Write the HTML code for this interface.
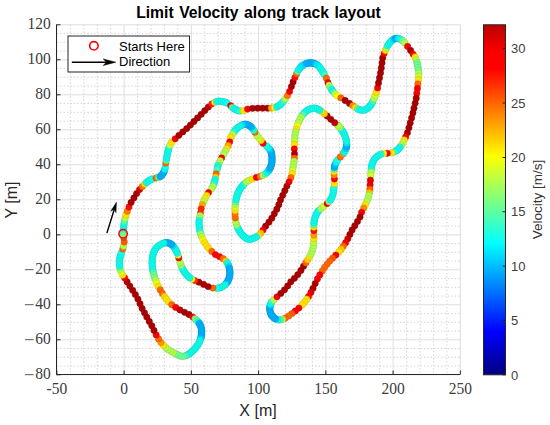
<!DOCTYPE html><html><head><meta charset="utf-8"><style>html,body{margin:0;padding:0;background:#fff}svg{display:block}</style></head><body><svg width="550" height="425" viewBox="0 0 550 425">
<rect width="550" height="425" fill="#fff"/>
<path d="M70.30 24.8V374.8M83.75 24.8V374.8M97.20 24.8V374.8M110.65 24.8V374.8M137.55 24.8V374.8M151.00 24.8V374.8M164.45 24.8V374.8M177.90 24.8V374.8M204.80 24.8V374.8M218.25 24.8V374.8M231.70 24.8V374.8M245.15 24.8V374.8M272.05 24.8V374.8M285.50 24.8V374.8M298.95 24.8V374.8M312.40 24.8V374.8M339.30 24.8V374.8M352.75 24.8V374.8M366.20 24.8V374.8M379.65 24.8V374.8M406.55 24.8V374.8M420.00 24.8V374.8M433.45 24.8V374.8M446.90 24.8V374.8M56.85 366.05H460.35M56.85 357.30H460.35M56.85 348.55H460.35M56.85 331.05H460.35M56.85 322.30H460.35M56.85 313.55H460.35M56.85 296.05H460.35M56.85 287.30H460.35M56.85 278.55H460.35M56.85 261.05H460.35M56.85 252.30H460.35M56.85 243.55H460.35M56.85 226.05H460.35M56.85 217.30H460.35M56.85 208.55H460.35M56.85 191.05H460.35M56.85 182.30H460.35M56.85 173.55H460.35M56.85 156.05H460.35M56.85 147.30H460.35M56.85 138.55H460.35M56.85 121.05H460.35M56.85 112.30H460.35M56.85 103.55H460.35M56.85 86.05H460.35M56.85 77.30H460.35M56.85 68.55H460.35M56.85 51.05H460.35M56.85 42.30H460.35M56.85 33.55H460.35" stroke="#c4c4c4" stroke-width="0.8" stroke-dasharray="1.3 2.1" fill="none"/>
<path d="M56.85 24.8V374.8M124.10 24.8V374.8M191.35 24.8V374.8M258.60 24.8V374.8M325.85 24.8V374.8M393.10 24.8V374.8M460.35 24.8V374.8M56.85 374.80H460.35M56.85 339.80H460.35M56.85 304.80H460.35M56.85 269.80H460.35M56.85 234.80H460.35M56.85 199.80H460.35M56.85 164.80H460.35M56.85 129.80H460.35M56.85 94.80H460.35M56.85 59.80H460.35M56.85 24.80H460.35" stroke="#dedede" stroke-width="1" fill="none"/>
<g><circle cx="123.0" cy="233.9" r="3.35" fill="#70ff8f" stroke="#5cd175" stroke-width="0.5"/><circle cx="123.1" cy="231.6" r="3.35" fill="#4cffb3" stroke="#3ed193" stroke-width="0.5"/><circle cx="123.4" cy="229.6" r="3.35" fill="#11ffee" stroke="#0ed1c3" stroke-width="0.5"/><circle cx="123.6" cy="227.5" r="3.35" fill="#11ffee" stroke="#0ed1c3" stroke-width="0.5"/><circle cx="123.8" cy="225.5" r="3.35" fill="#11ffee" stroke="#0ed1c3" stroke-width="0.5"/><circle cx="124.1" cy="223.5" r="3.35" fill="#11ffee" stroke="#0ed1c3" stroke-width="0.5"/><circle cx="124.5" cy="221.2" r="3.35" fill="#4cffb3" stroke="#3ed193" stroke-width="0.5"/><circle cx="125.1" cy="218.3" r="3.35" fill="#afff50" stroke="#90d142" stroke-width="0.5"/><circle cx="125.9" cy="214.9" r="3.32" fill="#ffe300" stroke="#d1ba00" stroke-width="0.5"/><circle cx="127.3" cy="211.2" r="3.21" fill="#ff7a00" stroke="#d16400" stroke-width="0.5"/><circle cx="129.0" cy="207.0" r="3.15" fill="#ff0a00" stroke="#d10800" stroke-width="0.5"/><circle cx="131.1" cy="202.4" r="3.15" fill="#a90000" stroke="#8b0000" stroke-width="0.5"/><circle cx="133.9" cy="198.0" r="3.15" fill="#a90000" stroke="#8b0000" stroke-width="0.5"/><circle cx="136.6" cy="193.6" r="3.15" fill="#a90000" stroke="#8b0000" stroke-width="0.5"/><circle cx="139.5" cy="189.6" r="3.15" fill="#d70000" stroke="#b00000" stroke-width="0.5"/><circle cx="142.4" cy="186.5" r="3.20" fill="#ff7000" stroke="#d15c00" stroke-width="0.5"/><circle cx="144.8" cy="184.0" r="3.32" fill="#ffe300" stroke="#d1ba00" stroke-width="0.5"/><circle cx="146.5" cy="182.6" r="3.35" fill="#11ffee" stroke="#0ed1c3" stroke-width="0.5"/><circle cx="148.3" cy="181.2" r="3.35" fill="#11ffee" stroke="#0ed1c3" stroke-width="0.5"/><circle cx="150.1" cy="180.1" r="3.35" fill="#11ffee" stroke="#0ed1c3" stroke-width="0.5"/><circle cx="152.0" cy="179.1" r="3.35" fill="#11ffee" stroke="#0ed1c3" stroke-width="0.5"/><circle cx="156.0" cy="178.0" r="3.18" fill="#ff6500" stroke="#d15300" stroke-width="0.5"/><circle cx="158.6" cy="177.3" r="3.35" fill="#6bff94" stroke="#58d179" stroke-width="0.5"/><circle cx="160.2" cy="176.6" r="3.35" fill="#00b4ff" stroke="#0094d1" stroke-width="0.5"/><circle cx="161.5" cy="175.5" r="3.35" fill="#00b4ff" stroke="#0094d1" stroke-width="0.5"/><circle cx="162.6" cy="174.1" r="3.35" fill="#00b4ff" stroke="#0094d1" stroke-width="0.5"/><circle cx="163.6" cy="172.6" r="3.35" fill="#00b4ff" stroke="#0094d1" stroke-width="0.5"/><circle cx="164.3" cy="171.0" r="3.35" fill="#00b4ff" stroke="#0094d1" stroke-width="0.5"/><circle cx="164.9" cy="169.0" r="3.35" fill="#11ffee" stroke="#0ed1c3" stroke-width="0.5"/><circle cx="165.3" cy="167.1" r="3.35" fill="#11ffee" stroke="#0ed1c3" stroke-width="0.5"/><circle cx="165.8" cy="163.1" r="3.18" fill="#ff6500" stroke="#d15300" stroke-width="0.5"/><circle cx="166.3" cy="160.2" r="3.35" fill="#60ff9f" stroke="#4fd182" stroke-width="0.5"/><circle cx="166.6" cy="158.2" r="3.35" fill="#11ffee" stroke="#0ed1c3" stroke-width="0.5"/><circle cx="167.0" cy="156.0" r="3.35" fill="#11ffee" stroke="#0ed1c3" stroke-width="0.5"/><circle cx="167.4" cy="153.9" r="3.35" fill="#11ffee" stroke="#0ed1c3" stroke-width="0.5"/><circle cx="167.8" cy="152.0" r="3.35" fill="#11ffee" stroke="#0ed1c3" stroke-width="0.5"/><circle cx="168.4" cy="150.0" r="3.35" fill="#11ffee" stroke="#0ed1c3" stroke-width="0.5"/><circle cx="169.0" cy="147.8" r="3.35" fill="#11ffee" stroke="#0ed1c3" stroke-width="0.5"/><circle cx="170.0" cy="145.0" r="3.35" fill="#caff35" stroke="#a6d12b" stroke-width="0.5"/><circle cx="171.8" cy="142.2" r="3.32" fill="#ffe300" stroke="#d1ba00" stroke-width="0.5"/><circle cx="175.2" cy="138.8" r="3.15" fill="#fb0000" stroke="#ce0000" stroke-width="0.5"/><circle cx="178.9" cy="135.3" r="3.15" fill="#a90000" stroke="#8b0000" stroke-width="0.5"/><circle cx="182.8" cy="131.9" r="3.15" fill="#a90000" stroke="#8b0000" stroke-width="0.5"/><circle cx="186.7" cy="128.6" r="3.15" fill="#a90000" stroke="#8b0000" stroke-width="0.5"/><circle cx="190.4" cy="125.1" r="3.15" fill="#a90000" stroke="#8b0000" stroke-width="0.5"/><circle cx="194.0" cy="121.5" r="3.15" fill="#a90000" stroke="#8b0000" stroke-width="0.5"/><circle cx="197.6" cy="117.9" r="3.15" fill="#a90000" stroke="#8b0000" stroke-width="0.5"/><circle cx="201.2" cy="114.3" r="3.15" fill="#a90000" stroke="#8b0000" stroke-width="0.5"/><circle cx="204.8" cy="110.6" r="3.15" fill="#a90000" stroke="#8b0000" stroke-width="0.5"/><circle cx="208.3" cy="107.1" r="3.15" fill="#b80000" stroke="#970000" stroke-width="0.5"/><circle cx="211.8" cy="104.0" r="3.15" fill="#ff1d00" stroke="#d11800" stroke-width="0.5"/><circle cx="214.8" cy="102.3" r="3.33" fill="#ffee00" stroke="#d1c300" stroke-width="0.5"/><circle cx="216.7" cy="101.5" r="3.35" fill="#11ffee" stroke="#0ed1c3" stroke-width="0.5"/><circle cx="218.9" cy="101.1" r="3.35" fill="#11ffee" stroke="#0ed1c3" stroke-width="0.5"/><circle cx="221.2" cy="101.3" r="3.35" fill="#11ffee" stroke="#0ed1c3" stroke-width="0.5"/><circle cx="223.1" cy="101.7" r="3.35" fill="#11ffee" stroke="#0ed1c3" stroke-width="0.5"/><circle cx="225.2" cy="102.2" r="3.35" fill="#11ffee" stroke="#0ed1c3" stroke-width="0.5"/><circle cx="227.0" cy="103.0" r="3.35" fill="#11ffee" stroke="#0ed1c3" stroke-width="0.5"/><circle cx="230.7" cy="105.7" r="3.15" fill="#fb0000" stroke="#ce0000" stroke-width="0.5"/><circle cx="232.4" cy="107.5" r="3.35" fill="#66ff99" stroke="#54d17d" stroke-width="0.5"/><circle cx="234.0" cy="108.7" r="3.35" fill="#11ffee" stroke="#0ed1c3" stroke-width="0.5"/><circle cx="235.8" cy="109.7" r="3.35" fill="#11ffee" stroke="#0ed1c3" stroke-width="0.5"/><circle cx="237.7" cy="110.5" r="3.35" fill="#11ffee" stroke="#0ed1c3" stroke-width="0.5"/><circle cx="239.9" cy="111.0" r="3.35" fill="#27ffd8" stroke="#20d1b1" stroke-width="0.5"/><circle cx="243.4" cy="110.8" r="3.32" fill="#ffe300" stroke="#d1ba00" stroke-width="0.5"/><circle cx="247.6" cy="109.1" r="3.15" fill="#fb0000" stroke="#ce0000" stroke-width="0.5"/><circle cx="252.6" cy="108.3" r="3.15" fill="#a90000" stroke="#8b0000" stroke-width="0.5"/><circle cx="257.7" cy="108.2" r="3.15" fill="#a90000" stroke="#8b0000" stroke-width="0.5"/><circle cx="262.7" cy="108.2" r="3.15" fill="#a90000" stroke="#8b0000" stroke-width="0.5"/><circle cx="267.7" cy="108.2" r="3.15" fill="#a90000" stroke="#8b0000" stroke-width="0.5"/><circle cx="271.4" cy="108.1" r="3.25" fill="#ffa400" stroke="#d18600" stroke-width="0.5"/><circle cx="274.7" cy="107.6" r="3.34" fill="#fff900" stroke="#d1cc00" stroke-width="0.5"/><circle cx="276.9" cy="106.9" r="3.35" fill="#11ffee" stroke="#0ed1c3" stroke-width="0.5"/><circle cx="278.8" cy="105.7" r="3.35" fill="#11ffee" stroke="#0ed1c3" stroke-width="0.5"/><circle cx="280.4" cy="104.5" r="3.35" fill="#11ffee" stroke="#0ed1c3" stroke-width="0.5"/><circle cx="281.9" cy="103.1" r="3.35" fill="#11ffee" stroke="#0ed1c3" stroke-width="0.5"/><circle cx="283.5" cy="101.4" r="3.35" fill="#2affd5" stroke="#22d1af" stroke-width="0.5"/><circle cx="285.3" cy="98.9" r="3.35" fill="#afff50" stroke="#90d142" stroke-width="0.5"/><circle cx="287.5" cy="95.6" r="3.20" fill="#ff7300" stroke="#d15e00" stroke-width="0.5"/><circle cx="289.6" cy="91.4" r="3.15" fill="#f90000" stroke="#cc0000" stroke-width="0.5"/><circle cx="291.4" cy="86.6" r="3.15" fill="#a90000" stroke="#8b0000" stroke-width="0.5"/><circle cx="293.1" cy="81.9" r="3.15" fill="#a90000" stroke="#8b0000" stroke-width="0.5"/><circle cx="294.9" cy="77.6" r="3.15" fill="#ff1000" stroke="#d10d00" stroke-width="0.5"/><circle cx="296.6" cy="73.8" r="3.18" fill="#ff6500" stroke="#d15300" stroke-width="0.5"/><circle cx="297.7" cy="71.3" r="3.35" fill="#5affa5" stroke="#4ad187" stroke-width="0.5"/><circle cx="298.8" cy="69.4" r="3.35" fill="#11ffee" stroke="#0ed1c3" stroke-width="0.5"/><circle cx="300.2" cy="67.7" r="3.35" fill="#0cfff3" stroke="#0ad1c7" stroke-width="0.5"/><circle cx="301.7" cy="66.2" r="3.35" fill="#00f2ff" stroke="#00c6d1" stroke-width="0.5"/><circle cx="303.2" cy="65.0" r="3.35" fill="#00f0ff" stroke="#00c5d1" stroke-width="0.5"/><circle cx="305.0" cy="64.0" r="3.35" fill="#00e9ff" stroke="#00bfd1" stroke-width="0.5"/><circle cx="306.6" cy="63.4" r="3.35" fill="#00bbff" stroke="#0099d1" stroke-width="0.5"/><circle cx="308.3" cy="63.0" r="3.35" fill="#00b4ff" stroke="#0094d1" stroke-width="0.5"/><circle cx="310.0" cy="62.9" r="3.35" fill="#00b4ff" stroke="#0094d1" stroke-width="0.5"/><circle cx="311.6" cy="62.9" r="3.35" fill="#00b4ff" stroke="#0094d1" stroke-width="0.5"/><circle cx="313.3" cy="63.2" r="3.35" fill="#00b4ff" stroke="#0094d1" stroke-width="0.5"/><circle cx="315.0" cy="63.7" r="3.35" fill="#00b4ff" stroke="#0094d1" stroke-width="0.5"/><circle cx="316.8" cy="64.6" r="3.35" fill="#00eeff" stroke="#00c3d1" stroke-width="0.5"/><circle cx="318.4" cy="65.8" r="3.35" fill="#00f0ff" stroke="#00c5d1" stroke-width="0.5"/><circle cx="319.7" cy="67.3" r="3.35" fill="#01fffe" stroke="#01d1d0" stroke-width="0.5"/><circle cx="320.9" cy="68.9" r="3.35" fill="#11ffee" stroke="#0ed1c3" stroke-width="0.5"/><circle cx="322.1" cy="70.8" r="3.35" fill="#11ffee" stroke="#0ed1c3" stroke-width="0.5"/><circle cx="323.2" cy="72.7" r="3.35" fill="#11ffee" stroke="#0ed1c3" stroke-width="0.5"/><circle cx="324.4" cy="74.6" r="3.35" fill="#31ffce" stroke="#28d1a9" stroke-width="0.5"/><circle cx="326.4" cy="78.2" r="3.18" fill="#ff6500" stroke="#d15300" stroke-width="0.5"/><circle cx="328.0" cy="82.7" r="3.15" fill="#fb0000" stroke="#ce0000" stroke-width="0.5"/><circle cx="329.2" cy="85.4" r="3.35" fill="#afff50" stroke="#90d142" stroke-width="0.5"/><circle cx="330.5" cy="87.8" r="3.35" fill="#7cff83" stroke="#66d16b" stroke-width="0.5"/><circle cx="331.7" cy="89.7" r="3.35" fill="#11ffee" stroke="#0ed1c3" stroke-width="0.5"/><circle cx="333.0" cy="91.5" r="3.35" fill="#11ffee" stroke="#0ed1c3" stroke-width="0.5"/><circle cx="334.9" cy="93.8" r="3.35" fill="#afff50" stroke="#90d142" stroke-width="0.5"/><circle cx="337.4" cy="95.8" r="3.35" fill="#faff05" stroke="#cdd104" stroke-width="0.5"/><circle cx="340.9" cy="97.9" r="3.18" fill="#ff6500" stroke="#d15300" stroke-width="0.5"/><circle cx="345.2" cy="100.5" r="3.15" fill="#a90000" stroke="#8b0000" stroke-width="0.5"/><circle cx="349.5" cy="103.4" r="3.15" fill="#a90000" stroke="#8b0000" stroke-width="0.5"/><circle cx="352.8" cy="105.6" r="3.22" fill="#ff8300" stroke="#d16b00" stroke-width="0.5"/><circle cx="355.7" cy="107.6" r="3.32" fill="#ffe300" stroke="#d1ba00" stroke-width="0.5"/><circle cx="357.7" cy="108.9" r="3.35" fill="#53ffac" stroke="#44d18d" stroke-width="0.5"/><circle cx="359.6" cy="109.8" r="3.35" fill="#11ffee" stroke="#0ed1c3" stroke-width="0.5"/><circle cx="361.8" cy="110.2" r="3.35" fill="#11ffee" stroke="#0ed1c3" stroke-width="0.5"/><circle cx="364.0" cy="110.1" r="3.35" fill="#11ffee" stroke="#0ed1c3" stroke-width="0.5"/><circle cx="366.0" cy="109.3" r="3.35" fill="#11ffee" stroke="#0ed1c3" stroke-width="0.5"/><circle cx="367.8" cy="108.2" r="3.35" fill="#11ffee" stroke="#0ed1c3" stroke-width="0.5"/><circle cx="369.4" cy="106.8" r="3.35" fill="#11ffee" stroke="#0ed1c3" stroke-width="0.5"/><circle cx="370.8" cy="105.0" r="3.35" fill="#11ffee" stroke="#0ed1c3" stroke-width="0.5"/><circle cx="371.9" cy="103.3" r="3.35" fill="#11ffee" stroke="#0ed1c3" stroke-width="0.5"/><circle cx="372.9" cy="101.3" r="3.35" fill="#32ffcd" stroke="#29d1a8" stroke-width="0.5"/><circle cx="374.1" cy="98.5" r="3.35" fill="#afff50" stroke="#90d142" stroke-width="0.5"/><circle cx="375.2" cy="95.6" r="3.35" fill="#caff35" stroke="#a6d12b" stroke-width="0.5"/><circle cx="376.4" cy="92.4" r="3.32" fill="#ffe300" stroke="#d1ba00" stroke-width="0.5"/><circle cx="377.6" cy="87.9" r="3.15" fill="#fb0000" stroke="#ce0000" stroke-width="0.5"/><circle cx="378.5" cy="83.0" r="3.15" fill="#a90000" stroke="#8b0000" stroke-width="0.5"/><circle cx="379.5" cy="78.0" r="3.15" fill="#a90000" stroke="#8b0000" stroke-width="0.5"/><circle cx="380.5" cy="73.0" r="3.15" fill="#a90000" stroke="#8b0000" stroke-width="0.5"/><circle cx="381.3" cy="68.0" r="3.15" fill="#a90000" stroke="#8b0000" stroke-width="0.5"/><circle cx="382.0" cy="62.9" r="3.15" fill="#a90000" stroke="#8b0000" stroke-width="0.5"/><circle cx="382.7" cy="57.9" r="3.15" fill="#a90000" stroke="#8b0000" stroke-width="0.5"/><circle cx="384.1" cy="53.6" r="3.15" fill="#fb0000" stroke="#ce0000" stroke-width="0.5"/><circle cx="385.5" cy="50.4" r="3.32" fill="#ffe300" stroke="#d1ba00" stroke-width="0.5"/><circle cx="386.6" cy="47.8" r="3.35" fill="#b7ff48" stroke="#96d13b" stroke-width="0.5"/><circle cx="387.6" cy="45.7" r="3.35" fill="#11ffee" stroke="#0ed1c3" stroke-width="0.5"/><circle cx="388.9" cy="43.9" r="3.35" fill="#11ffee" stroke="#0ed1c3" stroke-width="0.5"/><circle cx="390.1" cy="42.3" r="3.35" fill="#11ffee" stroke="#0ed1c3" stroke-width="0.5"/><circle cx="391.7" cy="40.7" r="3.35" fill="#11ffee" stroke="#0ed1c3" stroke-width="0.5"/><circle cx="393.4" cy="39.5" r="3.35" fill="#00edff" stroke="#00c2d1" stroke-width="0.5"/><circle cx="395.0" cy="38.7" r="3.35" fill="#00b4ff" stroke="#0094d1" stroke-width="0.5"/><circle cx="396.6" cy="38.3" r="3.35" fill="#00b4ff" stroke="#0094d1" stroke-width="0.5"/><circle cx="398.6" cy="38.5" r="3.35" fill="#00fbff" stroke="#00ced1" stroke-width="0.5"/><circle cx="400.5" cy="39.3" r="3.35" fill="#11ffee" stroke="#0ed1c3" stroke-width="0.5"/><circle cx="402.5" cy="40.7" r="3.35" fill="#60ff9f" stroke="#4fd182" stroke-width="0.5"/><circle cx="404.7" cy="42.8" r="3.35" fill="#afff50" stroke="#90d142" stroke-width="0.5"/><circle cx="407.6" cy="46.4" r="3.15" fill="#fb0000" stroke="#ce0000" stroke-width="0.5"/><circle cx="410.6" cy="50.5" r="3.15" fill="#a90000" stroke="#8b0000" stroke-width="0.5"/><circle cx="413.2" cy="54.3" r="3.15" fill="#fb0000" stroke="#ce0000" stroke-width="0.5"/><circle cx="415.1" cy="57.1" r="3.32" fill="#ffe300" stroke="#d1ba00" stroke-width="0.5"/><circle cx="416.3" cy="60.1" r="3.35" fill="#c5ff3a" stroke="#a2d130" stroke-width="0.5"/><circle cx="417.0" cy="62.6" r="3.35" fill="#70ff8f" stroke="#5cd175" stroke-width="0.5"/><circle cx="417.6" cy="65.1" r="3.35" fill="#70ff8f" stroke="#5cd175" stroke-width="0.5"/><circle cx="418.1" cy="67.7" r="3.35" fill="#70ff8f" stroke="#5cd175" stroke-width="0.5"/><circle cx="418.5" cy="70.2" r="3.35" fill="#70ff8f" stroke="#5cd175" stroke-width="0.5"/><circle cx="418.8" cy="73.2" r="3.35" fill="#afff50" stroke="#90d142" stroke-width="0.5"/><circle cx="418.7" cy="76.2" r="3.35" fill="#b8ff47" stroke="#97d13a" stroke-width="0.5"/><circle cx="418.4" cy="79.7" r="3.32" fill="#ffe300" stroke="#d1ba00" stroke-width="0.5"/><circle cx="417.9" cy="83.9" r="3.18" fill="#ff6500" stroke="#d15300" stroke-width="0.5"/><circle cx="417.4" cy="88.5" r="3.15" fill="#fb0000" stroke="#ce0000" stroke-width="0.5"/><circle cx="416.8" cy="93.3" r="3.15" fill="#fb0000" stroke="#ce0000" stroke-width="0.5"/><circle cx="416.2" cy="98.2" r="3.15" fill="#a90000" stroke="#8b0000" stroke-width="0.5"/><circle cx="415.2" cy="103.1" r="3.15" fill="#a90000" stroke="#8b0000" stroke-width="0.5"/><circle cx="414.0" cy="108.2" r="3.15" fill="#a90000" stroke="#8b0000" stroke-width="0.5"/><circle cx="412.9" cy="113.0" r="3.15" fill="#a90000" stroke="#8b0000" stroke-width="0.5"/><circle cx="411.6" cy="118.0" r="3.15" fill="#a90000" stroke="#8b0000" stroke-width="0.5"/><circle cx="410.2" cy="123.0" r="3.15" fill="#a90000" stroke="#8b0000" stroke-width="0.5"/><circle cx="408.9" cy="127.8" r="3.15" fill="#a90000" stroke="#8b0000" stroke-width="0.5"/><circle cx="407.4" cy="132.7" r="3.15" fill="#b20000" stroke="#920000" stroke-width="0.5"/><circle cx="405.7" cy="137.0" r="3.15" fill="#fb0000" stroke="#ce0000" stroke-width="0.5"/><circle cx="404.2" cy="140.1" r="3.32" fill="#ffe300" stroke="#d1ba00" stroke-width="0.5"/><circle cx="402.8" cy="143.0" r="3.35" fill="#caff35" stroke="#a6d12b" stroke-width="0.5"/><circle cx="401.2" cy="145.5" r="3.35" fill="#a2ff5d" stroke="#85d14c" stroke-width="0.5"/><circle cx="399.9" cy="147.3" r="3.35" fill="#11ffee" stroke="#0ed1c3" stroke-width="0.5"/><circle cx="398.4" cy="149.0" r="3.35" fill="#11ffee" stroke="#0ed1c3" stroke-width="0.5"/><circle cx="396.9" cy="150.4" r="3.35" fill="#11ffee" stroke="#0ed1c3" stroke-width="0.5"/><circle cx="395.0" cy="151.6" r="3.35" fill="#11ffee" stroke="#0ed1c3" stroke-width="0.5"/><circle cx="391.8" cy="152.8" r="3.32" fill="#ffe300" stroke="#d1ba00" stroke-width="0.5"/><circle cx="387.3" cy="153.3" r="3.15" fill="#fb0000" stroke="#ce0000" stroke-width="0.5"/><circle cx="383.5" cy="153.5" r="3.34" fill="#fffa00" stroke="#d1cd00" stroke-width="0.5"/><circle cx="381.1" cy="154.1" r="3.35" fill="#3fffc0" stroke="#34d19d" stroke-width="0.5"/><circle cx="379.3" cy="155.0" r="3.35" fill="#11ffee" stroke="#0ed1c3" stroke-width="0.5"/><circle cx="377.4" cy="156.3" r="3.35" fill="#11ffee" stroke="#0ed1c3" stroke-width="0.5"/><circle cx="375.8" cy="157.7" r="3.35" fill="#11ffee" stroke="#0ed1c3" stroke-width="0.5"/><circle cx="374.4" cy="159.4" r="3.35" fill="#11ffee" stroke="#0ed1c3" stroke-width="0.5"/><circle cx="373.3" cy="161.2" r="3.35" fill="#11ffee" stroke="#0ed1c3" stroke-width="0.5"/><circle cx="372.4" cy="163.2" r="3.35" fill="#11ffee" stroke="#0ed1c3" stroke-width="0.5"/><circle cx="371.8" cy="165.2" r="3.35" fill="#11ffee" stroke="#0ed1c3" stroke-width="0.5"/><circle cx="371.5" cy="167.4" r="3.35" fill="#11ffee" stroke="#0ed1c3" stroke-width="0.5"/><circle cx="371.2" cy="169.5" r="3.35" fill="#11ffee" stroke="#0ed1c3" stroke-width="0.5"/><circle cx="371.0" cy="172.3" r="3.35" fill="#afff50" stroke="#90d142" stroke-width="0.5"/><circle cx="370.8" cy="175.4" r="3.35" fill="#cbff34" stroke="#a6d12b" stroke-width="0.5"/><circle cx="370.4" cy="180.2" r="3.15" fill="#dd0000" stroke="#b50000" stroke-width="0.5"/><circle cx="370.1" cy="184.9" r="3.15" fill="#ef0000" stroke="#c40000" stroke-width="0.5"/><circle cx="369.9" cy="189.1" r="3.17" fill="#ff5c00" stroke="#d14b00" stroke-width="0.5"/><circle cx="369.4" cy="192.7" r="3.28" fill="#ffbc00" stroke="#d19a00" stroke-width="0.5"/><circle cx="368.7" cy="195.7" r="3.35" fill="#afff50" stroke="#90d142" stroke-width="0.5"/><circle cx="367.9" cy="198.7" r="3.35" fill="#afff50" stroke="#90d142" stroke-width="0.5"/><circle cx="366.8" cy="201.5" r="3.35" fill="#afff50" stroke="#90d142" stroke-width="0.5"/><circle cx="365.4" cy="204.6" r="3.32" fill="#ffe300" stroke="#d1ba00" stroke-width="0.5"/><circle cx="363.7" cy="208.1" r="3.22" fill="#ff8b00" stroke="#d17200" stroke-width="0.5"/><circle cx="361.6" cy="212.3" r="3.15" fill="#fb0000" stroke="#ce0000" stroke-width="0.5"/><circle cx="360.0" cy="217.0" r="3.15" fill="#a90000" stroke="#8b0000" stroke-width="0.5"/><circle cx="357.5" cy="221.4" r="3.15" fill="#a90000" stroke="#8b0000" stroke-width="0.5"/><circle cx="354.8" cy="225.8" r="3.15" fill="#a90000" stroke="#8b0000" stroke-width="0.5"/><circle cx="352.1" cy="230.0" r="3.15" fill="#a90000" stroke="#8b0000" stroke-width="0.5"/><circle cx="349.9" cy="234.5" r="3.15" fill="#a90000" stroke="#8b0000" stroke-width="0.5"/><circle cx="347.8" cy="238.8" r="3.15" fill="#d20000" stroke="#ac0000" stroke-width="0.5"/><circle cx="345.6" cy="242.7" r="3.15" fill="#fb0000" stroke="#ce0000" stroke-width="0.5"/><circle cx="343.3" cy="246.3" r="3.18" fill="#ff6500" stroke="#d15300" stroke-width="0.5"/><circle cx="341.2" cy="249.2" r="3.29" fill="#ffc600" stroke="#d1a200" stroke-width="0.5"/><circle cx="339.0" cy="251.9" r="3.32" fill="#ffe300" stroke="#d1ba00" stroke-width="0.5"/><circle cx="335.8" cy="255.1" r="3.15" fill="#fb0000" stroke="#ce0000" stroke-width="0.5"/><circle cx="332.6" cy="258.2" r="3.17" fill="#ff5500" stroke="#d14600" stroke-width="0.5"/><circle cx="329.8" cy="261.0" r="3.18" fill="#ff6500" stroke="#d15300" stroke-width="0.5"/><circle cx="327.1" cy="264.2" r="3.18" fill="#ff6500" stroke="#d15300" stroke-width="0.5"/><circle cx="324.6" cy="267.4" r="3.18" fill="#ff6500" stroke="#d15300" stroke-width="0.5"/><circle cx="322.3" cy="270.9" r="3.18" fill="#ff6500" stroke="#d15300" stroke-width="0.5"/><circle cx="319.8" cy="274.9" r="3.15" fill="#fb0000" stroke="#ce0000" stroke-width="0.5"/><circle cx="317.4" cy="279.0" r="3.15" fill="#fb0000" stroke="#ce0000" stroke-width="0.5"/><circle cx="315.2" cy="283.6" r="3.15" fill="#a90000" stroke="#8b0000" stroke-width="0.5"/><circle cx="313.0" cy="288.3" r="3.15" fill="#a90000" stroke="#8b0000" stroke-width="0.5"/><circle cx="310.9" cy="292.5" r="3.15" fill="#e30000" stroke="#ba0000" stroke-width="0.5"/><circle cx="308.6" cy="296.4" r="3.15" fill="#ff0800" stroke="#d10700" stroke-width="0.5"/><circle cx="306.6" cy="299.4" r="3.32" fill="#ffe300" stroke="#d1ba00" stroke-width="0.5"/><circle cx="304.5" cy="302.2" r="3.32" fill="#ffe300" stroke="#d1ba00" stroke-width="0.5"/><circle cx="302.2" cy="304.8" r="3.32" fill="#ffe300" stroke="#d1ba00" stroke-width="0.5"/><circle cx="298.9" cy="308.1" r="3.15" fill="#fb0000" stroke="#ce0000" stroke-width="0.5"/><circle cx="295.3" cy="311.0" r="3.15" fill="#fb0000" stroke="#ce0000" stroke-width="0.5"/><circle cx="291.9" cy="313.6" r="3.17" fill="#ff5400" stroke="#d14500" stroke-width="0.5"/><circle cx="288.7" cy="316.0" r="3.18" fill="#ff6500" stroke="#d15300" stroke-width="0.5"/><circle cx="285.0" cy="318.3" r="3.18" fill="#ff6500" stroke="#d15300" stroke-width="0.5"/><circle cx="282.2" cy="319.4" r="3.35" fill="#afff50" stroke="#90d142" stroke-width="0.5"/><circle cx="279.8" cy="319.9" r="3.35" fill="#44ffbb" stroke="#38d199" stroke-width="0.5"/><circle cx="277.6" cy="319.7" r="3.35" fill="#11ffee" stroke="#0ed1c3" stroke-width="0.5"/><circle cx="275.8" cy="319.0" r="3.35" fill="#00c8ff" stroke="#00a4d1" stroke-width="0.5"/><circle cx="274.4" cy="318.2" r="3.35" fill="#00b4ff" stroke="#0094d1" stroke-width="0.5"/><circle cx="273.2" cy="317.1" r="3.35" fill="#00b4ff" stroke="#0094d1" stroke-width="0.5"/><circle cx="271.9" cy="315.7" r="3.35" fill="#00b4ff" stroke="#0094d1" stroke-width="0.5"/><circle cx="271.1" cy="314.4" r="3.35" fill="#00b4ff" stroke="#0094d1" stroke-width="0.5"/><circle cx="270.4" cy="312.8" r="3.35" fill="#00b4ff" stroke="#0094d1" stroke-width="0.5"/><circle cx="270.0" cy="311.1" r="3.35" fill="#00b4ff" stroke="#0094d1" stroke-width="0.5"/><circle cx="269.8" cy="309.5" r="3.35" fill="#00b4ff" stroke="#0094d1" stroke-width="0.5"/><circle cx="269.8" cy="307.7" r="3.35" fill="#00b4ff" stroke="#0094d1" stroke-width="0.5"/><circle cx="270.0" cy="306.2" r="3.35" fill="#00b4ff" stroke="#0094d1" stroke-width="0.5"/><circle cx="270.6" cy="304.1" r="3.35" fill="#05fffa" stroke="#04d1cd" stroke-width="0.5"/><circle cx="271.6" cy="302.1" r="3.35" fill="#11ffee" stroke="#0ed1c3" stroke-width="0.5"/><circle cx="273.7" cy="299.9" r="3.35" fill="#afff50" stroke="#90d142" stroke-width="0.5"/><circle cx="277.0" cy="296.8" r="3.15" fill="#fb0000" stroke="#ce0000" stroke-width="0.5"/><circle cx="280.8" cy="293.4" r="3.15" fill="#a90000" stroke="#8b0000" stroke-width="0.5"/><circle cx="284.5" cy="289.8" r="3.15" fill="#a90000" stroke="#8b0000" stroke-width="0.5"/><circle cx="287.7" cy="285.9" r="3.15" fill="#a90000" stroke="#8b0000" stroke-width="0.5"/><circle cx="290.8" cy="281.8" r="3.15" fill="#a90000" stroke="#8b0000" stroke-width="0.5"/><circle cx="294.4" cy="278.3" r="3.15" fill="#a90000" stroke="#8b0000" stroke-width="0.5"/><circle cx="297.8" cy="274.6" r="3.15" fill="#a90000" stroke="#8b0000" stroke-width="0.5"/><circle cx="300.9" cy="270.5" r="3.15" fill="#a90000" stroke="#8b0000" stroke-width="0.5"/><circle cx="303.6" cy="266.2" r="3.15" fill="#a90000" stroke="#8b0000" stroke-width="0.5"/><circle cx="305.9" cy="262.7" r="3.18" fill="#ff6500" stroke="#d15300" stroke-width="0.5"/><circle cx="307.8" cy="259.7" r="3.29" fill="#ffca00" stroke="#d1a600" stroke-width="0.5"/><circle cx="309.6" cy="256.7" r="3.32" fill="#ffe300" stroke="#d1ba00" stroke-width="0.5"/><circle cx="311.0" cy="254.1" r="3.35" fill="#afff50" stroke="#90d142" stroke-width="0.5"/><circle cx="312.1" cy="251.3" r="3.35" fill="#afff50" stroke="#90d142" stroke-width="0.5"/><circle cx="312.9" cy="248.4" r="3.35" fill="#afff50" stroke="#90d142" stroke-width="0.5"/><circle cx="313.5" cy="245.4" r="3.35" fill="#afff50" stroke="#90d142" stroke-width="0.5"/><circle cx="313.8" cy="242.4" r="3.35" fill="#afff50" stroke="#90d142" stroke-width="0.5"/><circle cx="313.9" cy="238.9" r="3.32" fill="#ffe300" stroke="#d1ba00" stroke-width="0.5"/><circle cx="313.9" cy="235.1" r="3.24" fill="#ff9900" stroke="#d17d00" stroke-width="0.5"/><circle cx="313.9" cy="230.6" r="3.15" fill="#ff0f00" stroke="#d10c00" stroke-width="0.5"/><circle cx="313.9" cy="227.1" r="3.32" fill="#ffe300" stroke="#d1ba00" stroke-width="0.5"/><circle cx="313.9" cy="224.6" r="3.35" fill="#53ffac" stroke="#44d18d" stroke-width="0.5"/><circle cx="314.0" cy="222.5" r="3.35" fill="#11ffee" stroke="#0ed1c3" stroke-width="0.5"/><circle cx="314.3" cy="220.3" r="3.35" fill="#11ffee" stroke="#0ed1c3" stroke-width="0.5"/><circle cx="314.8" cy="218.3" r="3.35" fill="#11ffee" stroke="#0ed1c3" stroke-width="0.5"/><circle cx="315.5" cy="216.2" r="3.35" fill="#11ffee" stroke="#0ed1c3" stroke-width="0.5"/><circle cx="316.4" cy="214.1" r="3.35" fill="#11ffee" stroke="#0ed1c3" stroke-width="0.5"/><circle cx="317.5" cy="212.2" r="3.35" fill="#11ffee" stroke="#0ed1c3" stroke-width="0.5"/><circle cx="318.9" cy="210.5" r="3.35" fill="#11ffee" stroke="#0ed1c3" stroke-width="0.5"/><circle cx="321.2" cy="208.4" r="3.35" fill="#afff50" stroke="#90d142" stroke-width="0.5"/><circle cx="323.5" cy="206.5" r="3.35" fill="#beff41" stroke="#9cd135" stroke-width="0.5"/><circle cx="327.2" cy="203.6" r="3.15" fill="#fb0000" stroke="#ce0000" stroke-width="0.5"/><circle cx="329.1" cy="201.6" r="3.35" fill="#8dff72" stroke="#74d15d" stroke-width="0.5"/><circle cx="330.5" cy="199.8" r="3.35" fill="#11ffee" stroke="#0ed1c3" stroke-width="0.5"/><circle cx="331.6" cy="197.9" r="3.35" fill="#11ffee" stroke="#0ed1c3" stroke-width="0.5"/><circle cx="332.5" cy="195.8" r="3.35" fill="#11ffee" stroke="#0ed1c3" stroke-width="0.5"/><circle cx="333.1" cy="193.7" r="3.35" fill="#11ffee" stroke="#0ed1c3" stroke-width="0.5"/><circle cx="333.4" cy="191.6" r="3.35" fill="#11ffee" stroke="#0ed1c3" stroke-width="0.5"/><circle cx="333.7" cy="189.6" r="3.35" fill="#11ffee" stroke="#0ed1c3" stroke-width="0.5"/><circle cx="334.0" cy="187.3" r="3.35" fill="#11ffee" stroke="#0ed1c3" stroke-width="0.5"/><circle cx="334.3" cy="183.8" r="3.32" fill="#ffe300" stroke="#d1ba00" stroke-width="0.5"/><circle cx="334.4" cy="179.0" r="3.15" fill="#fb0000" stroke="#ce0000" stroke-width="0.5"/><circle cx="334.1" cy="175.0" r="3.22" fill="#ff8800" stroke="#d17000" stroke-width="0.5"/><circle cx="334.0" cy="171.6" r="3.32" fill="#ffe300" stroke="#d1ba00" stroke-width="0.5"/><circle cx="334.2" cy="168.9" r="3.35" fill="#56ffa9" stroke="#47d18b" stroke-width="0.5"/><circle cx="334.4" cy="167.2" r="3.35" fill="#00b4ff" stroke="#0094d1" stroke-width="0.5"/><circle cx="334.8" cy="165.5" r="3.35" fill="#00b4ff" stroke="#0094d1" stroke-width="0.5"/><circle cx="335.4" cy="163.9" r="3.35" fill="#00c9ff" stroke="#00a5d1" stroke-width="0.5"/><circle cx="336.4" cy="161.9" r="3.35" fill="#11ffee" stroke="#0ed1c3" stroke-width="0.5"/><circle cx="337.6" cy="160.0" r="3.35" fill="#11ffee" stroke="#0ed1c3" stroke-width="0.5"/><circle cx="340.3" cy="157.0" r="3.18" fill="#ff6500" stroke="#d15300" stroke-width="0.5"/><circle cx="342.9" cy="153.9" r="3.23" fill="#ff9400" stroke="#d17900" stroke-width="0.5"/><circle cx="344.2" cy="152.2" r="3.35" fill="#11ffee" stroke="#0ed1c3" stroke-width="0.5"/><circle cx="345.3" cy="150.3" r="3.35" fill="#11ffee" stroke="#0ed1c3" stroke-width="0.5"/><circle cx="346.1" cy="148.4" r="3.35" fill="#00dcff" stroke="#00b4d1" stroke-width="0.5"/><circle cx="346.5" cy="146.7" r="3.35" fill="#00b4ff" stroke="#0094d1" stroke-width="0.5"/><circle cx="346.7" cy="145.0" r="3.35" fill="#00b4ff" stroke="#0094d1" stroke-width="0.5"/><circle cx="346.6" cy="143.0" r="3.35" fill="#00ecff" stroke="#00c2d1" stroke-width="0.5"/><circle cx="346.4" cy="141.0" r="3.35" fill="#11ffee" stroke="#0ed1c3" stroke-width="0.5"/><circle cx="345.9" cy="138.8" r="3.35" fill="#11ffee" stroke="#0ed1c3" stroke-width="0.5"/><circle cx="345.2" cy="136.6" r="3.35" fill="#11ffee" stroke="#0ed1c3" stroke-width="0.5"/><circle cx="344.4" cy="134.6" r="3.35" fill="#11ffee" stroke="#0ed1c3" stroke-width="0.5"/><circle cx="343.5" cy="132.7" r="3.35" fill="#11ffee" stroke="#0ed1c3" stroke-width="0.5"/><circle cx="342.3" cy="130.8" r="3.35" fill="#11ffee" stroke="#0ed1c3" stroke-width="0.5"/><circle cx="340.9" cy="129.1" r="3.35" fill="#11ffee" stroke="#0ed1c3" stroke-width="0.5"/><circle cx="337.9" cy="125.5" r="3.15" fill="#fb0000" stroke="#ce0000" stroke-width="0.5"/><circle cx="339.6" cy="126.8" r="3.35" fill="#dfff20" stroke="#b7d11a" stroke-width="0.5"/><circle cx="338.4" cy="125.9" r="3.35" fill="#afff50" stroke="#90d142" stroke-width="0.5"/><circle cx="334.7" cy="122.7" r="3.15" fill="#c40000" stroke="#a10000" stroke-width="0.5"/><circle cx="330.8" cy="119.3" r="3.15" fill="#a90000" stroke="#8b0000" stroke-width="0.5"/><circle cx="327.1" cy="116.0" r="3.15" fill="#a90000" stroke="#8b0000" stroke-width="0.5"/><circle cx="324.4" cy="113.7" r="3.29" fill="#ffc900" stroke="#d1a500" stroke-width="0.5"/><circle cx="321.5" cy="111.5" r="3.32" fill="#ffe300" stroke="#d1ba00" stroke-width="0.5"/><circle cx="319.6" cy="110.2" r="3.35" fill="#11ffee" stroke="#0ed1c3" stroke-width="0.5"/><circle cx="317.7" cy="109.1" r="3.35" fill="#11ffee" stroke="#0ed1c3" stroke-width="0.5"/><circle cx="315.8" cy="108.3" r="3.35" fill="#11ffee" stroke="#0ed1c3" stroke-width="0.5"/><circle cx="313.7" cy="108.0" r="3.35" fill="#11ffee" stroke="#0ed1c3" stroke-width="0.5"/><circle cx="311.5" cy="108.5" r="3.35" fill="#11ffee" stroke="#0ed1c3" stroke-width="0.5"/><circle cx="309.5" cy="109.2" r="3.35" fill="#11ffee" stroke="#0ed1c3" stroke-width="0.5"/><circle cx="307.5" cy="110.2" r="3.35" fill="#11ffee" stroke="#0ed1c3" stroke-width="0.5"/><circle cx="305.7" cy="111.6" r="3.35" fill="#11ffee" stroke="#0ed1c3" stroke-width="0.5"/><circle cx="304.2" cy="113.0" r="3.35" fill="#11ffee" stroke="#0ed1c3" stroke-width="0.5"/><circle cx="302.7" cy="114.9" r="3.35" fill="#4fffb0" stroke="#41d190" stroke-width="0.5"/><circle cx="301.0" cy="117.4" r="3.35" fill="#afff50" stroke="#90d142" stroke-width="0.5"/><circle cx="299.6" cy="120.0" r="3.35" fill="#afff50" stroke="#90d142" stroke-width="0.5"/><circle cx="298.4" cy="122.7" r="3.35" fill="#afff50" stroke="#90d142" stroke-width="0.5"/><circle cx="297.2" cy="125.8" r="3.35" fill="#f1ff0e" stroke="#c6d10b" stroke-width="0.5"/><circle cx="296.2" cy="129.2" r="3.32" fill="#ffe300" stroke="#d1ba00" stroke-width="0.5"/><circle cx="295.5" cy="132.1" r="3.35" fill="#afff50" stroke="#90d142" stroke-width="0.5"/><circle cx="295.0" cy="135.0" r="3.35" fill="#afff50" stroke="#90d142" stroke-width="0.5"/><circle cx="294.8" cy="138.0" r="3.35" fill="#afff50" stroke="#90d142" stroke-width="0.5"/><circle cx="294.6" cy="141.0" r="3.35" fill="#b8ff47" stroke="#97d13a" stroke-width="0.5"/><circle cx="294.4" cy="144.4" r="3.32" fill="#ffe300" stroke="#d1ba00" stroke-width="0.5"/><circle cx="294.3" cy="149.0" r="3.15" fill="#fb0000" stroke="#ce0000" stroke-width="0.5"/><circle cx="294.5" cy="154.0" r="3.15" fill="#a90000" stroke="#8b0000" stroke-width="0.5"/><circle cx="294.4" cy="158.2" r="3.18" fill="#ff6500" stroke="#d15300" stroke-width="0.5"/><circle cx="294.0" cy="161.3" r="3.35" fill="#afff50" stroke="#90d142" stroke-width="0.5"/><circle cx="293.5" cy="164.2" r="3.35" fill="#afff50" stroke="#90d142" stroke-width="0.5"/><circle cx="293.0" cy="167.2" r="3.35" fill="#afff50" stroke="#90d142" stroke-width="0.5"/><circle cx="292.6" cy="170.2" r="3.35" fill="#d2ff2d" stroke="#acd125" stroke-width="0.5"/><circle cx="292.0" cy="173.7" r="3.32" fill="#ffe300" stroke="#d1ba00" stroke-width="0.5"/><circle cx="290.9" cy="177.6" r="3.18" fill="#ff6500" stroke="#d15300" stroke-width="0.5"/><circle cx="289.1" cy="181.8" r="3.15" fill="#fb0000" stroke="#ce0000" stroke-width="0.5"/><circle cx="286.9" cy="186.1" r="3.15" fill="#b80000" stroke="#970000" stroke-width="0.5"/><circle cx="284.8" cy="190.7" r="3.15" fill="#a90000" stroke="#8b0000" stroke-width="0.5"/><circle cx="282.7" cy="195.3" r="3.15" fill="#a90000" stroke="#8b0000" stroke-width="0.5"/><circle cx="280.5" cy="200.0" r="3.15" fill="#a90000" stroke="#8b0000" stroke-width="0.5"/><circle cx="278.8" cy="204.7" r="3.15" fill="#a90000" stroke="#8b0000" stroke-width="0.5"/><circle cx="276.8" cy="209.2" r="3.15" fill="#a90000" stroke="#8b0000" stroke-width="0.5"/><circle cx="274.3" cy="213.7" r="3.15" fill="#a90000" stroke="#8b0000" stroke-width="0.5"/><circle cx="271.8" cy="218.2" r="3.15" fill="#a90000" stroke="#8b0000" stroke-width="0.5"/><circle cx="268.9" cy="222.2" r="3.15" fill="#a90000" stroke="#8b0000" stroke-width="0.5"/><circle cx="265.6" cy="226.2" r="3.15" fill="#a90000" stroke="#8b0000" stroke-width="0.5"/><circle cx="263.0" cy="230.1" r="3.15" fill="#fb0000" stroke="#ce0000" stroke-width="0.5"/><circle cx="260.7" cy="233.2" r="3.28" fill="#ffbe00" stroke="#d19c00" stroke-width="0.5"/><circle cx="258.3" cy="235.6" r="3.32" fill="#ffe300" stroke="#d1ba00" stroke-width="0.5"/><circle cx="256.4" cy="236.9" r="3.35" fill="#11ffee" stroke="#0ed1c3" stroke-width="0.5"/><circle cx="254.6" cy="237.8" r="3.35" fill="#11ffee" stroke="#0ed1c3" stroke-width="0.5"/><circle cx="252.7" cy="238.6" r="3.35" fill="#11ffee" stroke="#0ed1c3" stroke-width="0.5"/><circle cx="250.6" cy="239.2" r="3.35" fill="#11ffee" stroke="#0ed1c3" stroke-width="0.5"/><circle cx="248.6" cy="239.3" r="3.35" fill="#11ffee" stroke="#0ed1c3" stroke-width="0.5"/><circle cx="246.6" cy="238.5" r="3.35" fill="#11ffee" stroke="#0ed1c3" stroke-width="0.5"/><circle cx="244.9" cy="237.3" r="3.35" fill="#11ffee" stroke="#0ed1c3" stroke-width="0.5"/><circle cx="243.3" cy="235.9" r="3.35" fill="#11ffee" stroke="#0ed1c3" stroke-width="0.5"/><circle cx="241.9" cy="234.5" r="3.35" fill="#11ffee" stroke="#0ed1c3" stroke-width="0.5"/><circle cx="240.6" cy="232.9" r="3.35" fill="#11ffee" stroke="#0ed1c3" stroke-width="0.5"/><circle cx="239.5" cy="231.2" r="3.35" fill="#11ffee" stroke="#0ed1c3" stroke-width="0.5"/><circle cx="238.5" cy="229.4" r="3.35" fill="#11ffee" stroke="#0ed1c3" stroke-width="0.5"/><circle cx="237.5" cy="227.4" r="3.35" fill="#11ffee" stroke="#0ed1c3" stroke-width="0.5"/><circle cx="236.6" cy="224.8" r="3.35" fill="#9dff62" stroke="#81d150" stroke-width="0.5"/><circle cx="235.8" cy="222.0" r="3.35" fill="#afff50" stroke="#90d142" stroke-width="0.5"/><circle cx="235.3" cy="217.9" r="3.19" fill="#ff6900" stroke="#d15600" stroke-width="0.5"/><circle cx="235.1" cy="214.0" r="3.20" fill="#ff7400" stroke="#d15f00" stroke-width="0.5"/><circle cx="235.1" cy="210.5" r="3.32" fill="#ffe300" stroke="#d1ba00" stroke-width="0.5"/><circle cx="235.2" cy="207.3" r="3.35" fill="#dfff20" stroke="#b7d11a" stroke-width="0.5"/><circle cx="235.4" cy="204.3" r="3.35" fill="#afff50" stroke="#90d142" stroke-width="0.5"/><circle cx="235.7" cy="201.8" r="3.35" fill="#70ff8f" stroke="#5cd175" stroke-width="0.5"/><circle cx="236.1" cy="199.6" r="3.35" fill="#11ffee" stroke="#0ed1c3" stroke-width="0.5"/><circle cx="236.6" cy="197.4" r="3.35" fill="#11ffee" stroke="#0ed1c3" stroke-width="0.5"/><circle cx="237.2" cy="195.3" r="3.35" fill="#11ffee" stroke="#0ed1c3" stroke-width="0.5"/><circle cx="238.0" cy="193.2" r="3.35" fill="#11ffee" stroke="#0ed1c3" stroke-width="0.5"/><circle cx="238.9" cy="191.2" r="3.35" fill="#11ffee" stroke="#0ed1c3" stroke-width="0.5"/><circle cx="240.0" cy="189.2" r="3.35" fill="#11ffee" stroke="#0ed1c3" stroke-width="0.5"/><circle cx="241.2" cy="187.4" r="3.35" fill="#11ffee" stroke="#0ed1c3" stroke-width="0.5"/><circle cx="242.6" cy="185.6" r="3.35" fill="#11ffee" stroke="#0ed1c3" stroke-width="0.5"/><circle cx="244.1" cy="184.1" r="3.35" fill="#11ffee" stroke="#0ed1c3" stroke-width="0.5"/><circle cx="246.3" cy="182.1" r="3.35" fill="#afff50" stroke="#90d142" stroke-width="0.5"/><circle cx="248.7" cy="180.5" r="3.35" fill="#afff50" stroke="#90d142" stroke-width="0.5"/><circle cx="251.9" cy="179.0" r="3.32" fill="#ffe300" stroke="#d1ba00" stroke-width="0.5"/><circle cx="256.4" cy="177.4" r="3.15" fill="#fb0000" stroke="#ce0000" stroke-width="0.5"/><circle cx="260.2" cy="176.3" r="3.19" fill="#ff6e00" stroke="#d15a00" stroke-width="0.5"/><circle cx="263.0" cy="175.3" r="3.35" fill="#afff50" stroke="#90d142" stroke-width="0.5"/><circle cx="265.4" cy="173.9" r="3.35" fill="#69ff96" stroke="#56d17b" stroke-width="0.5"/><circle cx="267.0" cy="172.6" r="3.35" fill="#11ffee" stroke="#0ed1c3" stroke-width="0.5"/><circle cx="268.4" cy="170.9" r="3.35" fill="#11ffee" stroke="#0ed1c3" stroke-width="0.5"/><circle cx="269.4" cy="169.4" r="3.35" fill="#00d8ff" stroke="#00b1d1" stroke-width="0.5"/><circle cx="270.2" cy="167.9" r="3.35" fill="#00b4ff" stroke="#0094d1" stroke-width="0.5"/><circle cx="270.9" cy="166.3" r="3.35" fill="#00b4ff" stroke="#0094d1" stroke-width="0.5"/><circle cx="271.4" cy="164.5" r="3.35" fill="#00b4ff" stroke="#0094d1" stroke-width="0.5"/><circle cx="271.8" cy="162.8" r="3.35" fill="#00b4ff" stroke="#0094d1" stroke-width="0.5"/><circle cx="272.0" cy="161.0" r="3.35" fill="#00b4ff" stroke="#0094d1" stroke-width="0.5"/><circle cx="272.0" cy="159.3" r="3.35" fill="#00b4ff" stroke="#0094d1" stroke-width="0.5"/><circle cx="272.0" cy="157.5" r="3.35" fill="#00b4ff" stroke="#0094d1" stroke-width="0.5"/><circle cx="271.8" cy="155.8" r="3.35" fill="#00b4ff" stroke="#0094d1" stroke-width="0.5"/><circle cx="271.6" cy="154.0" r="3.35" fill="#00b4ff" stroke="#0094d1" stroke-width="0.5"/><circle cx="271.3" cy="152.3" r="3.35" fill="#00b4ff" stroke="#0094d1" stroke-width="0.5"/><circle cx="270.6" cy="150.8" r="3.35" fill="#00b4ff" stroke="#0094d1" stroke-width="0.5"/><circle cx="269.6" cy="149.3" r="3.35" fill="#00d3ff" stroke="#00add1" stroke-width="0.5"/><circle cx="268.2" cy="147.7" r="3.35" fill="#11ffee" stroke="#0ed1c3" stroke-width="0.5"/><circle cx="266.6" cy="146.1" r="3.35" fill="#11ffee" stroke="#0ed1c3" stroke-width="0.5"/><circle cx="263.0" cy="143.2" r="3.15" fill="#fb0000" stroke="#ce0000" stroke-width="0.5"/><circle cx="261.0" cy="140.4" r="3.32" fill="#ffe300" stroke="#d1ba00" stroke-width="0.5"/><circle cx="258.9" cy="138.0" r="3.35" fill="#d6ff29" stroke="#afd122" stroke-width="0.5"/><circle cx="256.9" cy="135.7" r="3.35" fill="#afff50" stroke="#90d142" stroke-width="0.5"/><circle cx="254.9" cy="132.2" r="3.18" fill="#ff6500" stroke="#d15300" stroke-width="0.5"/><circle cx="253.7" cy="130.2" r="3.35" fill="#31ffce" stroke="#28d1a9" stroke-width="0.5"/><circle cx="252.4" cy="128.5" r="3.35" fill="#11ffee" stroke="#0ed1c3" stroke-width="0.5"/><circle cx="251.4" cy="127.1" r="3.35" fill="#00c8ff" stroke="#00a4d1" stroke-width="0.5"/><circle cx="250.0" cy="126.0" r="3.35" fill="#00b4ff" stroke="#0094d1" stroke-width="0.5"/><circle cx="248.5" cy="125.2" r="3.35" fill="#00b4ff" stroke="#0094d1" stroke-width="0.5"/><circle cx="247.0" cy="124.6" r="3.35" fill="#00b4ff" stroke="#0094d1" stroke-width="0.5"/><circle cx="245.5" cy="124.3" r="3.35" fill="#00b4ff" stroke="#0094d1" stroke-width="0.5"/><circle cx="243.8" cy="124.5" r="3.35" fill="#00b4ff" stroke="#0094d1" stroke-width="0.5"/><circle cx="242.1" cy="125.0" r="3.35" fill="#00e2ff" stroke="#00b9d1" stroke-width="0.5"/><circle cx="240.2" cy="126.0" r="3.35" fill="#11ffee" stroke="#0ed1c3" stroke-width="0.5"/><circle cx="238.3" cy="127.2" r="3.35" fill="#11ffee" stroke="#0ed1c3" stroke-width="0.5"/><circle cx="236.6" cy="128.7" r="3.35" fill="#11ffee" stroke="#0ed1c3" stroke-width="0.5"/><circle cx="235.3" cy="130.2" r="3.35" fill="#11ffee" stroke="#0ed1c3" stroke-width="0.5"/><circle cx="234.0" cy="131.8" r="3.35" fill="#11ffee" stroke="#0ed1c3" stroke-width="0.5"/><circle cx="232.4" cy="134.2" r="3.35" fill="#adff52" stroke="#8ed143" stroke-width="0.5"/><circle cx="230.8" cy="137.2" r="3.32" fill="#ffe300" stroke="#d1ba00" stroke-width="0.5"/><circle cx="229.7" cy="141.8" r="3.15" fill="#fb0000" stroke="#ce0000" stroke-width="0.5"/><circle cx="228.2" cy="145.5" r="3.25" fill="#ffa400" stroke="#d18600" stroke-width="0.5"/><circle cx="226.6" cy="148.7" r="3.32" fill="#ffe300" stroke="#d1ba00" stroke-width="0.5"/><circle cx="225.1" cy="151.3" r="3.35" fill="#afff50" stroke="#90d142" stroke-width="0.5"/><circle cx="223.6" cy="154.0" r="3.35" fill="#afff50" stroke="#90d142" stroke-width="0.5"/><circle cx="221.6" cy="158.0" r="3.15" fill="#fb0000" stroke="#ce0000" stroke-width="0.5"/><circle cx="220.1" cy="160.8" r="3.35" fill="#beff41" stroke="#9cd135" stroke-width="0.5"/><circle cx="218.8" cy="163.5" r="3.35" fill="#afff50" stroke="#90d142" stroke-width="0.5"/><circle cx="218.0" cy="165.6" r="3.35" fill="#2affd5" stroke="#22d1af" stroke-width="0.5"/><circle cx="217.4" cy="167.6" r="3.35" fill="#11ffee" stroke="#0ed1c3" stroke-width="0.5"/><circle cx="216.9" cy="169.9" r="3.35" fill="#49ffb6" stroke="#3cd195" stroke-width="0.5"/><circle cx="216.1" cy="173.9" r="3.18" fill="#ff6500" stroke="#d15300" stroke-width="0.5"/><circle cx="215.5" cy="177.4" r="3.30" fill="#ffd400" stroke="#d1ae00" stroke-width="0.5"/><circle cx="215.1" cy="179.6" r="3.35" fill="#11ffee" stroke="#0ed1c3" stroke-width="0.5"/><circle cx="214.5" cy="181.8" r="3.35" fill="#11ffee" stroke="#0ed1c3" stroke-width="0.5"/><circle cx="213.9" cy="183.8" r="3.35" fill="#1effe1" stroke="#19d1b8" stroke-width="0.5"/><circle cx="212.8" cy="186.4" r="3.35" fill="#afff50" stroke="#90d142" stroke-width="0.5"/><circle cx="211.4" cy="189.0" r="3.35" fill="#afff50" stroke="#90d142" stroke-width="0.5"/><circle cx="208.5" cy="192.6" r="3.15" fill="#fb0000" stroke="#ce0000" stroke-width="0.5"/><circle cx="206.6" cy="195.5" r="3.32" fill="#ffe300" stroke="#d1ba00" stroke-width="0.5"/><circle cx="204.9" cy="198.5" r="3.33" fill="#ffec00" stroke="#d1c200" stroke-width="0.5"/><circle cx="203.6" cy="201.3" r="3.35" fill="#afff50" stroke="#90d142" stroke-width="0.5"/><circle cx="202.2" cy="204.7" r="3.26" fill="#ffac00" stroke="#d18d00" stroke-width="0.5"/><circle cx="201.1" cy="208.9" r="3.15" fill="#ff2900" stroke="#d12200" stroke-width="0.5"/><circle cx="200.4" cy="213.1" r="3.15" fill="#ff3200" stroke="#d12900" stroke-width="0.5"/><circle cx="199.9" cy="215.9" r="3.35" fill="#afff50" stroke="#90d142" stroke-width="0.5"/><circle cx="199.5" cy="218.6" r="3.35" fill="#9cff63" stroke="#80d151" stroke-width="0.5"/><circle cx="199.1" cy="220.8" r="3.35" fill="#11ffee" stroke="#0ed1c3" stroke-width="0.5"/><circle cx="199.0" cy="222.9" r="3.35" fill="#11ffee" stroke="#0ed1c3" stroke-width="0.5"/><circle cx="199.1" cy="225.1" r="3.35" fill="#11ffee" stroke="#0ed1c3" stroke-width="0.5"/><circle cx="199.3" cy="227.1" r="3.35" fill="#11ffee" stroke="#0ed1c3" stroke-width="0.5"/><circle cx="199.6" cy="229.2" r="3.35" fill="#11ffee" stroke="#0ed1c3" stroke-width="0.5"/><circle cx="200.0" cy="231.3" r="3.35" fill="#11ffee" stroke="#0ed1c3" stroke-width="0.5"/><circle cx="200.7" cy="234.0" r="3.35" fill="#9dff62" stroke="#81d150" stroke-width="0.5"/><circle cx="201.7" cy="236.8" r="3.35" fill="#afff50" stroke="#90d142" stroke-width="0.5"/><circle cx="203.0" cy="239.8" r="3.34" fill="#fff700" stroke="#d1cb00" stroke-width="0.5"/><circle cx="204.7" cy="242.8" r="3.32" fill="#ffe300" stroke="#d1ba00" stroke-width="0.5"/><circle cx="206.8" cy="245.8" r="3.32" fill="#ffe300" stroke="#d1ba00" stroke-width="0.5"/><circle cx="208.9" cy="248.5" r="3.32" fill="#ffe200" stroke="#d1b900" stroke-width="0.5"/><circle cx="211.8" cy="251.5" r="3.18" fill="#ff6500" stroke="#d15300" stroke-width="0.5"/><circle cx="215.4" cy="254.6" r="3.15" fill="#fb0000" stroke="#ce0000" stroke-width="0.5"/><circle cx="219.6" cy="256.7" r="3.15" fill="#fb0000" stroke="#ce0000" stroke-width="0.5"/><circle cx="223.2" cy="258.7" r="3.18" fill="#ff6500" stroke="#d15300" stroke-width="0.5"/><circle cx="226.0" cy="261.1" r="3.30" fill="#ffd000" stroke="#d1ab00" stroke-width="0.5"/><circle cx="227.4" cy="262.9" r="3.35" fill="#11ffee" stroke="#0ed1c3" stroke-width="0.5"/><circle cx="228.4" cy="264.9" r="3.35" fill="#11ffee" stroke="#0ed1c3" stroke-width="0.5"/><circle cx="229.0" cy="266.8" r="3.35" fill="#00e2ff" stroke="#00b9d1" stroke-width="0.5"/><circle cx="229.4" cy="268.5" r="3.35" fill="#00b4ff" stroke="#0094d1" stroke-width="0.5"/><circle cx="229.7" cy="270.2" r="3.35" fill="#00b4ff" stroke="#0094d1" stroke-width="0.5"/><circle cx="229.9" cy="272.0" r="3.35" fill="#00b4ff" stroke="#0094d1" stroke-width="0.5"/><circle cx="229.9" cy="273.8" r="3.35" fill="#00b4ff" stroke="#0094d1" stroke-width="0.5"/><circle cx="229.7" cy="275.5" r="3.35" fill="#00b4ff" stroke="#0094d1" stroke-width="0.5"/><circle cx="229.4" cy="277.2" r="3.35" fill="#00b4ff" stroke="#0094d1" stroke-width="0.5"/><circle cx="228.8" cy="278.9" r="3.35" fill="#00b4ff" stroke="#0094d1" stroke-width="0.5"/><circle cx="228.1" cy="280.5" r="3.35" fill="#00b4ff" stroke="#0094d1" stroke-width="0.5"/><circle cx="227.3" cy="282.0" r="3.35" fill="#00b4ff" stroke="#0094d1" stroke-width="0.5"/><circle cx="226.2" cy="283.4" r="3.35" fill="#00bfff" stroke="#009dd1" stroke-width="0.5"/><circle cx="224.9" cy="284.9" r="3.35" fill="#10ffef" stroke="#0dd1c4" stroke-width="0.5"/><circle cx="223.1" cy="286.3" r="3.35" fill="#11ffee" stroke="#0ed1c3" stroke-width="0.5"/><circle cx="221.1" cy="287.3" r="3.35" fill="#11ffee" stroke="#0ed1c3" stroke-width="0.5"/><circle cx="219.2" cy="287.9" r="3.35" fill="#11ffee" stroke="#0ed1c3" stroke-width="0.5"/><circle cx="217.0" cy="288.3" r="3.35" fill="#11ffee" stroke="#0ed1c3" stroke-width="0.5"/><circle cx="212.9" cy="288.0" r="3.18" fill="#ff6500" stroke="#d15300" stroke-width="0.5"/><circle cx="208.1" cy="286.6" r="3.15" fill="#a90000" stroke="#8b0000" stroke-width="0.5"/><circle cx="203.6" cy="284.4" r="3.15" fill="#a90000" stroke="#8b0000" stroke-width="0.5"/><circle cx="198.9" cy="282.2" r="3.15" fill="#a90000" stroke="#8b0000" stroke-width="0.5"/><circle cx="194.7" cy="280.5" r="3.15" fill="#ff2c00" stroke="#d12400" stroke-width="0.5"/><circle cx="191.7" cy="279.1" r="3.35" fill="#f7ff08" stroke="#cbd107" stroke-width="0.5"/><circle cx="189.9" cy="277.8" r="3.35" fill="#11ffee" stroke="#0ed1c3" stroke-width="0.5"/><circle cx="188.2" cy="276.3" r="3.35" fill="#11ffee" stroke="#0ed1c3" stroke-width="0.5"/><circle cx="186.7" cy="274.8" r="3.35" fill="#11ffee" stroke="#0ed1c3" stroke-width="0.5"/><circle cx="185.3" cy="273.3" r="3.35" fill="#11ffee" stroke="#0ed1c3" stroke-width="0.5"/><circle cx="184.1" cy="271.6" r="3.35" fill="#11ffee" stroke="#0ed1c3" stroke-width="0.5"/><circle cx="183.0" cy="269.7" r="3.35" fill="#11ffee" stroke="#0ed1c3" stroke-width="0.5"/><circle cx="182.1" cy="267.9" r="3.35" fill="#11ffee" stroke="#0ed1c3" stroke-width="0.5"/><circle cx="181.0" cy="265.3" r="3.35" fill="#8bff74" stroke="#72d15f" stroke-width="0.5"/><circle cx="180.0" cy="262.5" r="3.35" fill="#afff50" stroke="#90d142" stroke-width="0.5"/><circle cx="178.8" cy="257.9" r="3.15" fill="#fb0000" stroke="#ce0000" stroke-width="0.5"/><circle cx="178.0" cy="255.0" r="3.35" fill="#d1ff2e" stroke="#abd126" stroke-width="0.5"/><circle cx="177.3" cy="253.1" r="3.35" fill="#11ffee" stroke="#0ed1c3" stroke-width="0.5"/><circle cx="176.4" cy="251.0" r="3.35" fill="#11ffee" stroke="#0ed1c3" stroke-width="0.5"/><circle cx="175.4" cy="249.2" r="3.35" fill="#11ffee" stroke="#0ed1c3" stroke-width="0.5"/><circle cx="174.2" cy="247.4" r="3.35" fill="#11ffee" stroke="#0ed1c3" stroke-width="0.5"/><circle cx="172.9" cy="245.8" r="3.35" fill="#00edff" stroke="#00c2d1" stroke-width="0.5"/><circle cx="171.7" cy="244.6" r="3.35" fill="#00b4ff" stroke="#0094d1" stroke-width="0.5"/><circle cx="170.2" cy="243.6" r="3.35" fill="#00b4ff" stroke="#0094d1" stroke-width="0.5"/><circle cx="168.8" cy="243.0" r="3.35" fill="#00b4ff" stroke="#0094d1" stroke-width="0.5"/><circle cx="167.2" cy="242.7" r="3.35" fill="#00b4ff" stroke="#0094d1" stroke-width="0.5"/><circle cx="165.5" cy="242.7" r="3.35" fill="#00b4ff" stroke="#0094d1" stroke-width="0.5"/><circle cx="163.6" cy="243.2" r="3.35" fill="#09fff6" stroke="#07d1ca" stroke-width="0.5"/><circle cx="161.7" cy="244.0" r="3.35" fill="#11ffee" stroke="#0ed1c3" stroke-width="0.5"/><circle cx="159.7" cy="245.1" r="3.35" fill="#11ffee" stroke="#0ed1c3" stroke-width="0.5"/><circle cx="158.0" cy="246.3" r="3.35" fill="#11ffee" stroke="#0ed1c3" stroke-width="0.5"/><circle cx="156.4" cy="247.8" r="3.35" fill="#11ffee" stroke="#0ed1c3" stroke-width="0.5"/><circle cx="155.1" cy="249.6" r="3.35" fill="#11ffee" stroke="#0ed1c3" stroke-width="0.5"/><circle cx="154.1" cy="251.4" r="3.35" fill="#11ffee" stroke="#0ed1c3" stroke-width="0.5"/><circle cx="153.3" cy="253.6" r="3.35" fill="#11ffee" stroke="#0ed1c3" stroke-width="0.5"/><circle cx="152.8" cy="255.6" r="3.35" fill="#11ffee" stroke="#0ed1c3" stroke-width="0.5"/><circle cx="152.4" cy="257.6" r="3.35" fill="#11ffee" stroke="#0ed1c3" stroke-width="0.5"/><circle cx="152.2" cy="259.6" r="3.35" fill="#11ffee" stroke="#0ed1c3" stroke-width="0.5"/><circle cx="152.1" cy="261.7" r="3.35" fill="#11ffee" stroke="#0ed1c3" stroke-width="0.5"/><circle cx="152.1" cy="263.7" r="3.35" fill="#11ffee" stroke="#0ed1c3" stroke-width="0.5"/><circle cx="152.3" cy="265.9" r="3.35" fill="#11ffee" stroke="#0ed1c3" stroke-width="0.5"/><circle cx="152.5" cy="268.2" r="3.35" fill="#11ffee" stroke="#0ed1c3" stroke-width="0.5"/><circle cx="152.8" cy="270.1" r="3.35" fill="#11ffee" stroke="#0ed1c3" stroke-width="0.5"/><circle cx="153.3" cy="272.4" r="3.35" fill="#3bffc4" stroke="#30d1a1" stroke-width="0.5"/><circle cx="153.9" cy="274.9" r="3.35" fill="#70ff8f" stroke="#5cd175" stroke-width="0.5"/><circle cx="154.6" cy="277.4" r="3.35" fill="#73ff8c" stroke="#5ed173" stroke-width="0.5"/><circle cx="155.7" cy="280.2" r="3.35" fill="#afff50" stroke="#90d142" stroke-width="0.5"/><circle cx="156.7" cy="283.3" r="3.35" fill="#ecff13" stroke="#c2d110" stroke-width="0.5"/><circle cx="158.2" cy="286.4" r="3.32" fill="#ffe300" stroke="#d1ba00" stroke-width="0.5"/><circle cx="160.3" cy="289.9" r="3.18" fill="#ff6500" stroke="#d15300" stroke-width="0.5"/><circle cx="162.4" cy="293.4" r="3.18" fill="#ff6500" stroke="#d15300" stroke-width="0.5"/><circle cx="164.4" cy="296.5" r="3.30" fill="#ffd300" stroke="#d1ad00" stroke-width="0.5"/><circle cx="166.4" cy="299.2" r="3.32" fill="#ffe300" stroke="#d1ba00" stroke-width="0.5"/><circle cx="168.7" cy="301.9" r="3.32" fill="#ffe300" stroke="#d1ba00" stroke-width="0.5"/><circle cx="171.8" cy="304.7" r="3.18" fill="#ff6500" stroke="#d15300" stroke-width="0.5"/><circle cx="175.7" cy="307.4" r="3.15" fill="#fb0000" stroke="#ce0000" stroke-width="0.5"/><circle cx="179.9" cy="309.9" r="3.15" fill="#c20000" stroke="#9f0000" stroke-width="0.5"/><circle cx="184.5" cy="312.3" r="3.15" fill="#a90000" stroke="#8b0000" stroke-width="0.5"/><circle cx="188.9" cy="314.5" r="3.15" fill="#a90000" stroke="#8b0000" stroke-width="0.5"/><circle cx="192.9" cy="317.1" r="3.15" fill="#fb0000" stroke="#ce0000" stroke-width="0.5"/><circle cx="195.2" cy="318.8" r="3.35" fill="#82ff7d" stroke="#6bd166" stroke-width="0.5"/><circle cx="197.0" cy="320.5" r="3.35" fill="#70ff8f" stroke="#5cd175" stroke-width="0.5"/><circle cx="198.4" cy="322.1" r="3.35" fill="#12ffed" stroke="#0fd1c2" stroke-width="0.5"/><circle cx="199.4" cy="323.5" r="3.35" fill="#00b4ff" stroke="#0094d1" stroke-width="0.5"/><circle cx="200.2" cy="325.1" r="3.35" fill="#00b4ff" stroke="#0094d1" stroke-width="0.5"/><circle cx="200.9" cy="326.7" r="3.35" fill="#00b4ff" stroke="#0094d1" stroke-width="0.5"/><circle cx="201.4" cy="328.4" r="3.35" fill="#00b4ff" stroke="#0094d1" stroke-width="0.5"/><circle cx="201.6" cy="330.2" r="3.35" fill="#00b4ff" stroke="#0094d1" stroke-width="0.5"/><circle cx="201.7" cy="331.8" r="3.35" fill="#00b4ff" stroke="#0094d1" stroke-width="0.5"/><circle cx="201.6" cy="333.6" r="3.35" fill="#00b4ff" stroke="#0094d1" stroke-width="0.5"/><circle cx="201.4" cy="335.4" r="3.35" fill="#00b4ff" stroke="#0094d1" stroke-width="0.5"/><circle cx="201.1" cy="337.0" r="3.35" fill="#00b4ff" stroke="#0094d1" stroke-width="0.5"/><circle cx="200.6" cy="338.7" r="3.35" fill="#00ceff" stroke="#00a9d1" stroke-width="0.5"/><circle cx="200.0" cy="340.6" r="3.35" fill="#0efff1" stroke="#0bd1c6" stroke-width="0.5"/><circle cx="199.2" cy="342.5" r="3.35" fill="#11ffee" stroke="#0ed1c3" stroke-width="0.5"/><circle cx="198.1" cy="344.4" r="3.35" fill="#11ffee" stroke="#0ed1c3" stroke-width="0.5"/><circle cx="197.0" cy="346.1" r="3.35" fill="#11ffee" stroke="#0ed1c3" stroke-width="0.5"/><circle cx="195.7" cy="347.7" r="3.35" fill="#11ffee" stroke="#0ed1c3" stroke-width="0.5"/><circle cx="194.4" cy="349.3" r="3.35" fill="#11ffee" stroke="#0ed1c3" stroke-width="0.5"/><circle cx="193.0" cy="350.7" r="3.35" fill="#11ffee" stroke="#0ed1c3" stroke-width="0.5"/><circle cx="191.4" cy="352.1" r="3.35" fill="#11ffee" stroke="#0ed1c3" stroke-width="0.5"/><circle cx="189.8" cy="353.4" r="3.35" fill="#11ffee" stroke="#0ed1c3" stroke-width="0.5"/><circle cx="188.0" cy="354.6" r="3.35" fill="#11ffee" stroke="#0ed1c3" stroke-width="0.5"/><circle cx="186.1" cy="355.5" r="3.35" fill="#25ffda" stroke="#1ed1b3" stroke-width="0.5"/><circle cx="183.5" cy="356.3" r="3.35" fill="#70ff8f" stroke="#5cd175" stroke-width="0.5"/><circle cx="181.0" cy="356.2" r="3.35" fill="#70ff8f" stroke="#5cd175" stroke-width="0.5"/><circle cx="178.5" cy="355.1" r="3.35" fill="#70ff8f" stroke="#5cd175" stroke-width="0.5"/><circle cx="176.0" cy="353.9" r="3.35" fill="#70ff8f" stroke="#5cd175" stroke-width="0.5"/><circle cx="173.3" cy="352.6" r="3.35" fill="#afff50" stroke="#90d142" stroke-width="0.5"/><circle cx="170.8" cy="351.2" r="3.35" fill="#afff50" stroke="#90d142" stroke-width="0.5"/><circle cx="168.2" cy="349.5" r="3.35" fill="#afff50" stroke="#90d142" stroke-width="0.5"/><circle cx="165.9" cy="347.7" r="3.35" fill="#afff50" stroke="#90d142" stroke-width="0.5"/><circle cx="163.4" cy="345.3" r="3.32" fill="#ffe300" stroke="#d1ba00" stroke-width="0.5"/><circle cx="160.9" cy="342.4" r="3.23" fill="#ff9600" stroke="#d17b00" stroke-width="0.5"/><circle cx="158.6" cy="339.0" r="3.18" fill="#ff6500" stroke="#d15300" stroke-width="0.5"/><circle cx="156.2" cy="334.9" r="3.15" fill="#fb0000" stroke="#ce0000" stroke-width="0.5"/><circle cx="154.0" cy="330.4" r="3.15" fill="#a90000" stroke="#8b0000" stroke-width="0.5"/><circle cx="151.8" cy="325.8" r="3.15" fill="#a90000" stroke="#8b0000" stroke-width="0.5"/><circle cx="149.3" cy="321.5" r="3.15" fill="#a90000" stroke="#8b0000" stroke-width="0.5"/><circle cx="146.8" cy="317.1" r="3.15" fill="#a90000" stroke="#8b0000" stroke-width="0.5"/><circle cx="144.5" cy="312.8" r="3.15" fill="#a90000" stroke="#8b0000" stroke-width="0.5"/><circle cx="142.1" cy="308.4" r="3.15" fill="#a90000" stroke="#8b0000" stroke-width="0.5"/><circle cx="140.0" cy="303.7" r="3.15" fill="#a90000" stroke="#8b0000" stroke-width="0.5"/><circle cx="137.9" cy="299.1" r="3.15" fill="#a90000" stroke="#8b0000" stroke-width="0.5"/><circle cx="135.4" cy="294.6" r="3.15" fill="#a90000" stroke="#8b0000" stroke-width="0.5"/><circle cx="132.7" cy="290.3" r="3.15" fill="#a90000" stroke="#8b0000" stroke-width="0.5"/><circle cx="129.9" cy="286.1" r="3.15" fill="#a90000" stroke="#8b0000" stroke-width="0.5"/><circle cx="127.1" cy="281.9" r="3.15" fill="#a90000" stroke="#8b0000" stroke-width="0.5"/><circle cx="124.7" cy="277.9" r="3.15" fill="#fb0000" stroke="#ce0000" stroke-width="0.5"/><circle cx="122.6" cy="275.0" r="3.32" fill="#ffe300" stroke="#d1ba00" stroke-width="0.5"/><circle cx="121.1" cy="272.2" r="3.35" fill="#e5ff1a" stroke="#bcd115" stroke-width="0.5"/><circle cx="120.1" cy="269.3" r="3.35" fill="#afff50" stroke="#90d142" stroke-width="0.5"/><circle cx="119.7" cy="267.0" r="3.35" fill="#44ffbb" stroke="#38d199" stroke-width="0.5"/><circle cx="119.5" cy="265.0" r="3.35" fill="#11ffee" stroke="#0ed1c3" stroke-width="0.5"/><circle cx="119.4" cy="262.9" r="3.35" fill="#11ffee" stroke="#0ed1c3" stroke-width="0.5"/><circle cx="119.5" cy="260.9" r="3.35" fill="#11ffee" stroke="#0ed1c3" stroke-width="0.5"/><circle cx="119.7" cy="258.9" r="3.35" fill="#11ffee" stroke="#0ed1c3" stroke-width="0.5"/><circle cx="120.1" cy="256.9" r="3.35" fill="#11ffee" stroke="#0ed1c3" stroke-width="0.5"/><circle cx="120.7" cy="254.9" r="3.35" fill="#11ffee" stroke="#0ed1c3" stroke-width="0.5"/><circle cx="121.3" cy="252.9" r="3.35" fill="#11ffee" stroke="#0ed1c3" stroke-width="0.5"/><circle cx="122.8" cy="249.0" r="3.18" fill="#ff6500" stroke="#d15300" stroke-width="0.5"/><circle cx="123.6" cy="246.0" r="3.35" fill="#afff50" stroke="#90d142" stroke-width="0.5"/><circle cx="124.2" cy="242.0" r="3.17" fill="#ff5c00" stroke="#d14b00" stroke-width="0.5"/><circle cx="123.7" cy="237.5" r="3.15" fill="#ff3c00" stroke="#d13100" stroke-width="0.5"/><circle cx="123.1" cy="234.9" r="3.35" fill="#70ff8f" stroke="#5cd175" stroke-width="0.5"/></g>
<circle cx="123.1" cy="233.8" r="4.2" fill="none" stroke="#ff0000" stroke-width="1.5"/>
<path d="M106.9 233.1L114.6 208.2" stroke="#000" stroke-width="1.4" fill="none"/>
<path d="M116.4 202.2L110.8 211.2L114.3 209.1L116.0 212.7Z" fill="#000" stroke="#000" stroke-width="0.5" stroke-linejoin="round"/>
<path d="M56.5 24.5V374.5H460M56.85 374.5v-4M124.10 374.5v-4M191.35 374.5v-4M258.60 374.5v-4M325.85 374.5v-4M393.10 374.5v-4M460.35 374.5v-4M56.5 374.80h4M56.5 339.80h4M56.5 304.80h4M56.5 269.80h4M56.5 234.80h4M56.5 199.80h4M56.5 164.80h4M56.5 129.80h4M56.5 94.80h4M56.5 59.80h4M56.5 24.80h4" stroke="#262626" stroke-width="1" fill="none"/>
<g font-family="Liberation Serif" font-size="15.5" fill="#3c3c3c"><text transform="translate(56.85,393.6) scale(1,1.06)" text-anchor="middle">-50</text><text transform="translate(124.10,393.6) scale(1,1.06)" text-anchor="middle">0</text><text transform="translate(191.35,393.6) scale(1,1.06)" text-anchor="middle">50</text><text transform="translate(258.60,393.6) scale(1,1.06)" text-anchor="middle">100</text><text transform="translate(325.85,393.6) scale(1,1.06)" text-anchor="middle">150</text><text transform="translate(393.10,393.6) scale(1,1.06)" text-anchor="middle">200</text><text transform="translate(460.35,393.6) scale(1,1.06)" text-anchor="middle">250</text><text transform="translate(50.8,379.40) scale(1,1.06)" text-anchor="end">80</text><rect x="24.9" y="374.30" width="8.7" height="0.85"/><text transform="translate(50.8,344.40) scale(1,1.06)" text-anchor="end">60</text><rect x="24.9" y="339.30" width="8.7" height="0.85"/><text transform="translate(50.8,309.40) scale(1,1.06)" text-anchor="end">40</text><rect x="24.9" y="304.30" width="8.7" height="0.85"/><text transform="translate(50.8,274.40) scale(1,1.06)" text-anchor="end">20</text><rect x="24.9" y="269.30" width="8.7" height="0.85"/><text transform="translate(50.8,239.40) scale(1,1.06)" text-anchor="end">0</text><text transform="translate(50.8,204.40) scale(1,1.06)" text-anchor="end">20</text><text transform="translate(50.8,169.40) scale(1,1.06)" text-anchor="end">40</text><text transform="translate(50.8,134.40) scale(1,1.06)" text-anchor="end">60</text><text transform="translate(50.8,99.40) scale(1,1.06)" text-anchor="end">80</text><text transform="translate(50.8,64.40) scale(1,1.06)" text-anchor="end">100</text><text transform="translate(50.8,29.40) scale(1,1.06)" text-anchor="end">120</text></g>
<text x="258" y="416" text-anchor="middle" font-family="Liberation Sans" font-size="16" fill="#262626">X [m]</text>
<text transform="translate(17,200) rotate(-90)" text-anchor="middle" font-family="Liberation Sans" font-size="16" fill="#262626">Y [m]</text>
<text x="258.45" y="18.3" text-anchor="middle" font-family="Liberation Sans" font-weight="bold" font-size="15.7" word-spacing="1.2" fill="#000">Limit Velocity along track layout</text>
<rect x="68" y="36" width="121.5" height="36" fill="#fff" stroke="#262626" stroke-width="1"/>
<circle cx="93.9" cy="45.8" r="4.2" fill="none" stroke="#ff0000" stroke-width="1.6"/>
<path d="M71.8 62.2H107" stroke="#000" stroke-width="1.4"/>
<path d="M115.8 62.2L103.2 58.9L106.5 62.2L103.2 65.5Z" fill="#000" stroke="#000" stroke-width="0.5" stroke-linejoin="round"/>
<text x="119" y="50.8" font-family="Liberation Sans" font-size="13" fill="#000">Starts Here</text>
<text x="119" y="66.4" font-family="Liberation Sans" font-size="13" fill="#000">Direction</text>
<defs><linearGradient id="jet" x1="0" y1="1" x2="0" y2="0">
<stop offset="0.0000" stop-color="#000080"/>
<stop offset="0.0156" stop-color="#00008f"/>
<stop offset="0.0312" stop-color="#00009f"/>
<stop offset="0.0469" stop-color="#0000af"/>
<stop offset="0.0625" stop-color="#0000bf"/>
<stop offset="0.0781" stop-color="#0000cf"/>
<stop offset="0.0938" stop-color="#0000df"/>
<stop offset="0.1094" stop-color="#0000ef"/>
<stop offset="0.1250" stop-color="#0000ff"/>
<stop offset="0.1406" stop-color="#0010ff"/>
<stop offset="0.1562" stop-color="#0020ff"/>
<stop offset="0.1719" stop-color="#0030ff"/>
<stop offset="0.1875" stop-color="#0040ff"/>
<stop offset="0.2031" stop-color="#0050ff"/>
<stop offset="0.2188" stop-color="#0060ff"/>
<stop offset="0.2344" stop-color="#0070ff"/>
<stop offset="0.2500" stop-color="#0080ff"/>
<stop offset="0.2656" stop-color="#008fff"/>
<stop offset="0.2812" stop-color="#009fff"/>
<stop offset="0.2969" stop-color="#00afff"/>
<stop offset="0.3125" stop-color="#00bfff"/>
<stop offset="0.3281" stop-color="#00cfff"/>
<stop offset="0.3438" stop-color="#00dfff"/>
<stop offset="0.3594" stop-color="#00efff"/>
<stop offset="0.3750" stop-color="#00ffff"/>
<stop offset="0.3906" stop-color="#10ffef"/>
<stop offset="0.4062" stop-color="#20ffdf"/>
<stop offset="0.4219" stop-color="#30ffcf"/>
<stop offset="0.4375" stop-color="#40ffbf"/>
<stop offset="0.4531" stop-color="#50ffaf"/>
<stop offset="0.4688" stop-color="#60ff9f"/>
<stop offset="0.4844" stop-color="#70ff8f"/>
<stop offset="0.5000" stop-color="#80ff80"/>
<stop offset="0.5156" stop-color="#8fff70"/>
<stop offset="0.5312" stop-color="#9fff60"/>
<stop offset="0.5469" stop-color="#afff50"/>
<stop offset="0.5625" stop-color="#bfff40"/>
<stop offset="0.5781" stop-color="#cfff30"/>
<stop offset="0.5938" stop-color="#dfff20"/>
<stop offset="0.6094" stop-color="#efff10"/>
<stop offset="0.6250" stop-color="#ffff00"/>
<stop offset="0.6406" stop-color="#ffef00"/>
<stop offset="0.6562" stop-color="#ffdf00"/>
<stop offset="0.6719" stop-color="#ffcf00"/>
<stop offset="0.6875" stop-color="#ffbf00"/>
<stop offset="0.7031" stop-color="#ffaf00"/>
<stop offset="0.7188" stop-color="#ff9f00"/>
<stop offset="0.7344" stop-color="#ff8f00"/>
<stop offset="0.7500" stop-color="#ff8000"/>
<stop offset="0.7656" stop-color="#ff7000"/>
<stop offset="0.7812" stop-color="#ff6000"/>
<stop offset="0.7969" stop-color="#ff5000"/>
<stop offset="0.8125" stop-color="#ff4000"/>
<stop offset="0.8281" stop-color="#ff3000"/>
<stop offset="0.8438" stop-color="#ff2000"/>
<stop offset="0.8594" stop-color="#ff1000"/>
<stop offset="0.8750" stop-color="#ff0000"/>
<stop offset="0.8906" stop-color="#ff0000"/>
<stop offset="0.9062" stop-color="#ff0000"/>
<stop offset="0.9219" stop-color="#fd0000"/>
<stop offset="0.9375" stop-color="#f00000"/>
<stop offset="0.9531" stop-color="#e20000"/>
<stop offset="0.9688" stop-color="#d50000"/>
<stop offset="0.9844" stop-color="#c80000"/>
<stop offset="1.0000" stop-color="#ba0000"/>
</linearGradient></defs>
<rect x="483.5" y="24.8" width="22.0" height="350.0" fill="url(#jet)" stroke="#262626" stroke-width="1"/>
<path d="M505.5 374.80h-3M505.5 320.45h-3M505.5 266.10h-3M505.5 211.76h-3M505.5 157.41h-3M505.5 103.06h-3M505.5 48.71h-3" stroke="#262626" stroke-width="1"/>
<g font-family="Liberation Sans" font-size="13" fill="#404040"><text x="511" y="379.50">0</text><text x="511" y="325.15">5</text><text x="511" y="270.80">10</text><text x="511" y="216.46">15</text><text x="511" y="162.11">20</text><text x="511" y="107.76">25</text><text x="511" y="53.41">30</text></g>
<text transform="translate(541.5,199.5) rotate(-90)" text-anchor="middle" font-family="Liberation Sans" font-size="13.5" fill="#333333">Velocity [m/s]</text>
</svg></body></html>
